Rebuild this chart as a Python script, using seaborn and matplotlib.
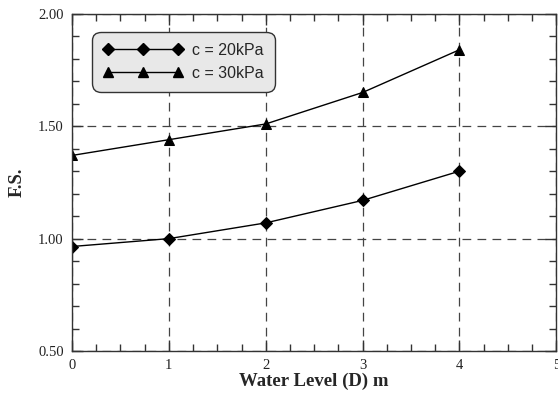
import numpy as np
import pandas as pd
import seaborn as sns
import matplotlib.pyplot as plt
from matplotlib.ticker import MultipleLocator
from matplotlib.lines import Line2D

# ---------------------------------------------------------------------------#
# data
water_level = [0, 1, 2, 3, 4]
fs_c20 = [0.965, 1.00, 1.07, 1.17, 1.30]
fs_c30 = [1.37, 1.44, 1.51, 1.65, 1.84]
series_names = ['c = 20kPa', 'c = 30kPa']
x_ticks = [0, 1, 2, 3, 4, 5]
y_ticks = [0.50, 1.00, 1.50, 2.00]
# ---------------------------------------------------------------------------#

def main():

    df = pd.DataFrame({
        'level': water_level * 2,
        'fs': fs_c20 + fs_c30,
        'series': [series_names[0]] * len(water_level) + [series_names[1]] * len(water_level),
    })

    sns.set_style('ticks')
    plt.rcParams['font.family'] = ['Liberation Serif', 'DejaVu Serif']

    fig = plt.figure(figsize=(5.58, 3.94), dpi=100)
    ax = fig.add_axes([0.129, 0.109, 0.868, 0.856])

    # grid first so lines sit on top
    ax.set_axisbelow(True)
    ax.grid(True, which='major', linestyle=(0, (7, 5)), color='#444444',
            linewidth=0.9)

    sns.lineplot(data=df, x='level', y='fs', style='series',
                 markers=['D', '^'], dashes=False, color='black',
                 linewidth=1.0, legend=False, ax=ax)
    # set marker sizes per series
    sizes = [5.8, 7.0]
    for line, ms in zip(ax.get_lines()[-2:], sizes):
        line.set_markersize(ms)
        line.set_markeredgecolor('black')
        line.set_markerfacecolor('black')

    ax.set_xlim(0, 5)
    ax.set_ylim(0.5, 2.0)
    ax.set_xticks(x_ticks)
    ax.set_yticks(y_ticks)
    ax.set_xticklabels([str(t) for t in x_ticks])
    ax.set_yticklabels(['%.2f' % t for t in y_ticks])
    ax.xaxis.set_minor_locator(MultipleLocator(0.25))
    ax.yaxis.set_minor_locator(MultipleLocator(0.1))

    ax.tick_params(which='both', direction='in', top=True, right=True,
                   colors='#333333', labelcolor='#222222', labelsize=10.5)
    ax.tick_params(which='major', length=8, width=1, pad=6)
    ax.tick_params(which='minor', length=5, width=1)

    for s in ax.spines.values():
        s.set_color('#333333')
        s.set_linewidth(1.0)

    ax.set_xlabel('Water Level (D) m', fontsize=13.5, fontweight='bold', labelpad=0)
    ax.set_ylabel('F.S.', fontsize=13.5, fontweight='bold', labelpad=9)

    # legend with three markers per entry, rounded grey box
    handles = [
        Line2D([], [], color='black', marker='D', markersize=5.8, linewidth=1.0),
        Line2D([], [], color='black', marker='^', markersize=7.0, linewidth=1.0),
    ]
    leg = ax.legend(handles, series_names, loc='upper left', numpoints=3,
                    handlelength=5.0, handletextpad=0.6, fancybox=True,
                    framealpha=1, facecolor='#e8e8e8', edgecolor='#333333',
                    bbox_to_anchor=(0.041, 0.947), borderaxespad=0,
                    borderpad=0.7, labelspacing=0.5,
                    prop={'family': 'Liberation Sans', 'size': 11.5})
    leg.get_frame().set_linewidth(1.0)
    leg.get_frame().set_boxstyle('round', pad=0, rounding_size=0.55)

    fig.savefig('out.png', dpi=100)

if __name__ == '__main__':
    main()
